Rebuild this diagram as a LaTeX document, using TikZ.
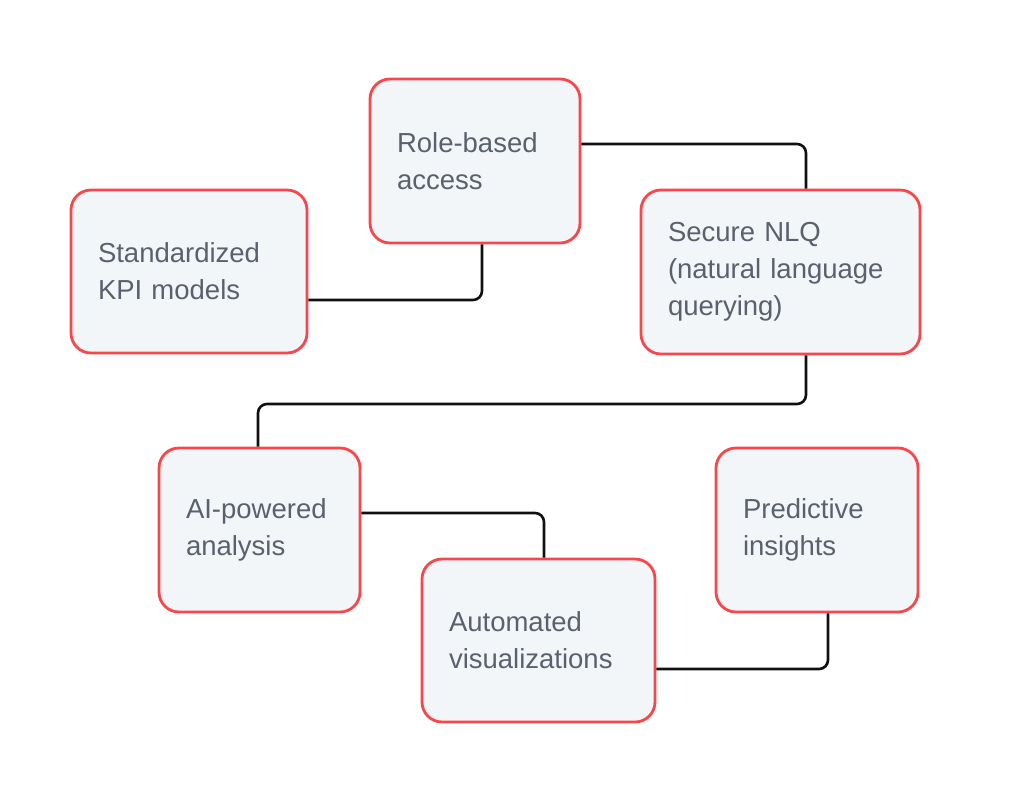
\documentclass[tikz,border=0pt]{standalone}
\usepackage{fontspec}
\setmainfont{Liberation Sans}
\usepackage{xcolor}
\usepackage{tikz}
\definecolor{KPRed}{HTML}{F8474B}
\definecolor{KPFill}{HTML}{F3F6F9}
\definecolor{KPText}{HTML}{5B606E}
\definecolor{KPLine}{HTML}{111111}
\tikzset{
  box/.style={draw=KPRed,fill=KPFill,line width=2.8pt,rounded corners=20pt,
    text=KPText,align=left,inner xsep=27pt,inner ysep=0pt,
    font=\fontsize{27.5}{37}\selectfont},
  link/.style={draw=KPLine,line width=2.6pt,rounded corners=9pt}
}

\begin{document}
\begin{tikzpicture}[x=1pt,y=-1pt]
\path[use as bounding box] (0,0) rectangle (1024,803);
\node[box,minimum width=210pt,minimum height=164pt,text width=156pt] (role) at (475,161) {Role-based\\access};
\node[box,minimum width=236pt,minimum height=163pt,text width=182pt] (kpi) at (189,271.5) {Standardized\\KPI models};
\node[box,minimum width=279pt,minimum height=164pt,text width=225pt] (nlq) at (780.5,272) {Secure NLQ\\(natural language\\querying)};
\node[box,minimum width=201pt,minimum height=164pt,text width=147pt] (ai) at (259.5,530) {AI-powered\\analysis};
\node[box,minimum width=233pt,minimum height=163pt,text width=179pt] (auto) at (538.5,640.5) {Automated\\visualizations};
\node[box,minimum width=202pt,minimum height=164pt,text width=148pt] (pred) at (817,530) {Predictive\\insights};
\coordinate (bend) at (532,404);
% connectors
\draw[link] ([yshift=-28.5pt]kpi.east) -| ([xshift=7pt]role.south);
\draw[link] ([yshift=17pt]role.east) -| ([xshift=25.5pt]nlq.north);
\draw[link] ([xshift=25.5pt]nlq.south) |- (bend) -| ([xshift=-1.5pt]ai.north);
\draw[link] ([yshift=17pt]ai.east) -| ([xshift=5.5pt]auto.north);
\draw[link] ([yshift=-28.5pt]auto.east) -| ([xshift=11pt]pred.south);
\end{tikzpicture}
\end{document}
